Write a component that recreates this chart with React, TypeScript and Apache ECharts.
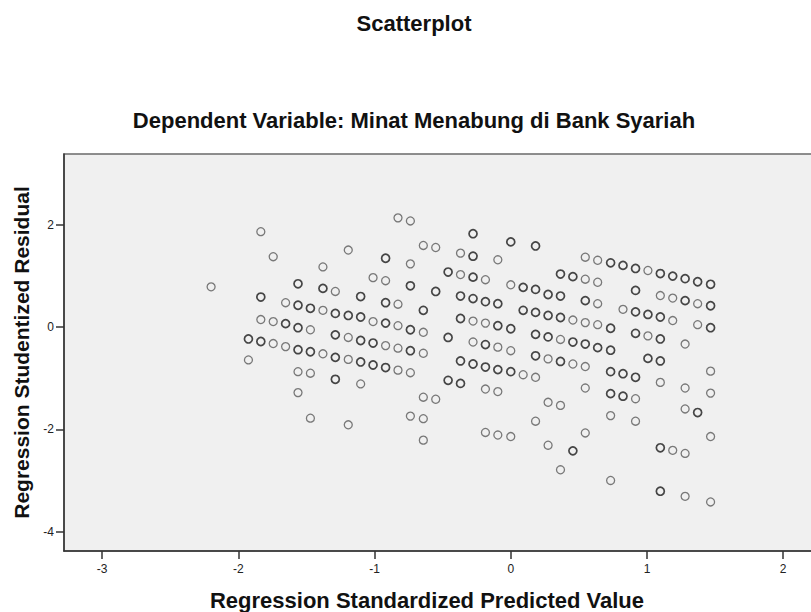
import React, { useEffect, useRef } from "react";
import * as echarts from "echarts";

const chartTitle = "Scatterplot";
const chartSubtitle = "Dependent Variable: Minat Menabung di Bank Syariah";
const xAxisName = "Regression Standardized Predicted Value";
const yAxisName = "Regression Studentized Residual";
const xTicks = [-3, -2, -1, 0, 1, 2];
const yTicks = [-4, -2, 0, 2];

// [predicted, residual] — single cases (lighter circles)
const singlePoints: [number, number][] = [
  [-2.2, 0.79],
  [-1.926, -0.64],
  [-1.835, 1.87], [-1.835, 0.15],
  [-1.744, 1.38], [-1.744, 0.11], [-1.744, -0.32],
  [-1.653, 0.48], [-1.653, -0.38],
  [-1.562, -0.87], [-1.562, -1.28],
  [-1.471, -0.05], [-1.471, -0.9], [-1.471, -1.78],
  [-1.379, 1.18], [-1.379, 0.33], [-1.379, -0.52],
  [-1.288, 0.7],
  [-1.193, 1.51], [-1.193, -0.2], [-1.193, -0.63], [-1.193, -1.91],
  [-1.102, -1.11],
  [-1.011, 0.97], [-1.011, 0.11],
  [-0.919, 0.91], [-0.919, -0.36],
  [-0.828, 2.14], [-0.828, 0.45], [-0.828, 0.03], [-0.828, -0.41], [-0.828, -0.84],
  [-0.737, 2.08], [-0.737, 1.24], [-0.737, -0.89], [-0.737, -1.74],
  [-0.642, 1.6], [-0.642, -0.1], [-0.642, -0.51], [-0.642, -1.37], [-0.642, -1.79], [-0.642, -2.21],
  [-0.551, 1.56], [-0.551, -1.41],
  [-0.369, 1.45], [-0.369, 1.03],
  [-0.277, 0.12], [-0.277, -0.29],
  [-0.186, 0.93], [-0.186, 0.08], [-0.186, -1.21], [-0.186, -2.06],
  [-0.095, 1.32], [-0.095, -0.39], [-0.095, -1.26], [-0.095, -2.11],
  [0, 0.83], [0, -0.46], [0, -2.14],
  [0.091, -0.93],
  [0.182, -0.98], [0.182, -1.84],
  [0.274, -0.62], [0.274, -1.47], [0.274, -2.31],
  [0.365, -0.24], [0.365, -1.53], [0.365, -2.79],
  [0.456, 0.14], [0.456, -0.72],
  [0.547, 1.37], [0.547, 0.94], [0.547, 0.09], [0.547, -0.77], [0.547, -1.19], [0.547, -2.07],
  [0.638, 1.31], [0.638, 0.88], [0.638, 0.46], [0.638, 0.05],
  [0.733, -1.73], [0.733, -3.0],
  [0.824, 0.35],
  [0.916, -1.4], [0.916, -1.84],
  [1.007, 1.11], [1.007, -0.17],
  [1.098, 0.62], [1.098, -1.08],
  [1.189, 0.57], [1.189, 0.13], [1.189, -2.41],
  [1.28, -0.33], [1.28, -1.19], [1.28, -1.6], [1.28, -2.47], [1.28, -3.31],
  [1.372, 0.46], [1.372, 0.05],
  [1.467, -0.86], [1.467, -1.29], [1.467, -2.14], [1.467, -3.42],
];

// [predicted, residual] — overlapping cases (darker circles)
const overlapPoints: [number, number][] = [
  [-1.926, -0.23],
  [-1.835, 0.59], [-1.835, -0.28],
  [-1.653, 0.07],
  [-1.562, 0.85], [-1.562, 0.43], [-1.562, -0.01], [-1.562, -0.44],
  [-1.471, 0.37], [-1.471, -0.48],
  [-1.379, 0.76],
  [-1.288, 0.27], [-1.288, -0.15], [-1.288, -0.59], [-1.288, -1.02],
  [-1.193, 0.23],
  [-1.102, 0.6], [-1.102, 0.2], [-1.102, -0.26], [-1.102, -0.68],
  [-1.011, -0.31], [-1.011, -0.74],
  [-0.919, 1.35], [-0.919, 0.48], [-0.919, 0.08], [-0.919, -0.79],
  [-0.737, 0.81], [-0.737, -0.05], [-0.737, -0.46],
  [-0.642, 0.33],
  [-0.551, 0.7],
  [-0.46, 1.08], [-0.46, -0.2], [-0.46, -1.04],
  [-0.369, 0.61], [-0.369, 0.17], [-0.369, -0.66], [-0.369, -1.1],
  [-0.277, 1.83], [-0.277, 1.39], [-0.277, 0.98], [-0.277, 0.56], [-0.277, -0.72],
  [-0.186, 0.5], [-0.186, -0.34], [-0.186, -0.78],
  [-0.095, 0.46], [-0.095, 0.03], [-0.095, -0.83],
  [0, 1.67], [0, -0.03], [0, -0.87],
  [0.091, 0.78], [0.091, 0.33],
  [0.182, 1.59], [0.182, 0.74], [0.182, 0.29], [0.182, -0.14], [0.182, -0.56],
  [0.274, 0.64], [0.274, 0.23], [0.274, -0.19],
  [0.365, 1.04], [0.365, 0.61], [0.365, 0.19], [0.365, -0.67],
  [0.456, 0.99], [0.456, -0.29], [0.456, -2.42],
  [0.547, 0.52], [0.547, -0.33],
  [0.638, -0.4],
  [0.733, 1.26], [0.733, -0.02], [0.733, -0.45], [0.733, -0.87], [0.733, -1.3],
  [0.824, 1.21], [0.824, -0.91], [0.824, -1.35],
  [0.916, 1.15], [0.916, 0.72], [0.916, 0.3], [0.916, -0.12], [0.916, -0.98],
  [1.007, 0.25], [1.007, -0.61],
  [1.098, 1.05], [1.098, 0.2], [1.098, -0.23], [1.098, -0.66], [1.098, -2.36], [1.098, -3.21],
  [1.189, 1.0],
  [1.28, 0.95], [1.28, 0.52],
  [1.372, 0.89], [1.372, -1.67],
  [1.467, 0.84], [1.467, 0.42], [1.467, -0.01],
];

const FONT = "'Liberation Sans', Arial, sans-serif";

export default function App() {
  const ref = useRef<HTMLDivElement>(null);
  useEffect(() => {
    if (!ref.current) return;
    const chart = echarts.init(ref.current, undefined, { renderer: "svg" });
    chart.setOption({
      animation: false,
      backgroundColor: "#ffffff",
      title: [
        {
          text: chartTitle,
          left: 409,
          top: 7,
          textAlign: "center",
          textStyle: { fontFamily: FONT, fontSize: 22, fontWeight: "bold", color: "#111" },
        },
        {
          text: chartSubtitle,
          left: 409,
          top: 104,
          textAlign: "center",
          textStyle: { fontFamily: FONT, fontSize: 22, fontWeight: "bold", color: "#111" },
        },
      ],
      grid: {
        left: 64,
        top: 154,
        width: 767,
        height: 397,
        show: true,
        outerBoundsMode: "none",
        containLabel: false,
        backgroundColor: "#f0f0f0",
        borderColor: "#6a6a6a",
        borderWidth: 1.5,
      },
      xAxis: {
        type: "value",
        min: -3.28,
        max: 2.351,
        name: xAxisName,
        nameLocation: "middle",
        nameGap: 38,
        nameTextStyle: {
          fontFamily: FONT,
          fontSize: 22,
          fontWeight: "bold",
          color: "#111",
          padding: [0, 41, 0, 0],
        },
        axisLine: { show: true, onZero: false, lineStyle: { color: "#333", width: 1.5 } },
        axisTick: { show: true, length: 8, customValues: xTicks, lineStyle: { color: "#333", width: 1.5 } },
        axisLabel: { customValues: xTicks, margin: 12, fontFamily: FONT, fontSize: 12, color: "#222" },
        splitLine: { show: false },
      },
      yAxis: {
        type: "value",
        min: -4.38,
        max: 3.39,
        name: yAxisName,
        nameLocation: "middle",
        nameRotate: 90,
        nameGap: 29,
        nameTextStyle: { fontFamily: FONT, fontSize: 21, fontWeight: "bold", color: "#111" },
        axisLine: { show: true, onZero: false, lineStyle: { color: "#333", width: 1.5 } },
        axisTick: { show: true, length: 8, customValues: yTicks, lineStyle: { color: "#333", width: 1.5 } },
        axisLabel: { customValues: yTicks, margin: 10, fontFamily: FONT, fontSize: 12, color: "#222" },
        splitLine: { show: false },
      },
      series: [
        {
          type: "scatter",
          data: singlePoints,
          symbol: "circle",
          symbolSize: 8,
          itemStyle: { color: "transparent", borderColor: "#5a5a5a", borderWidth: 1.3 },
          emphasis: { disabled: true },
        },
        {
          type: "scatter",
          data: overlapPoints,
          symbol: "circle",
          symbolSize: 8,
          itemStyle: { color: "transparent", borderColor: "#1a1a1a", borderWidth: 1.7 },
          emphasis: { disabled: true },
        },
      ],
    });
    return () => chart.dispose();
  }, []);
  return (
    <div
      ref={ref}
      style={{ position: "fixed", left: 0, top: 0, width: 811, height: 612 }}
    />
  );
}
